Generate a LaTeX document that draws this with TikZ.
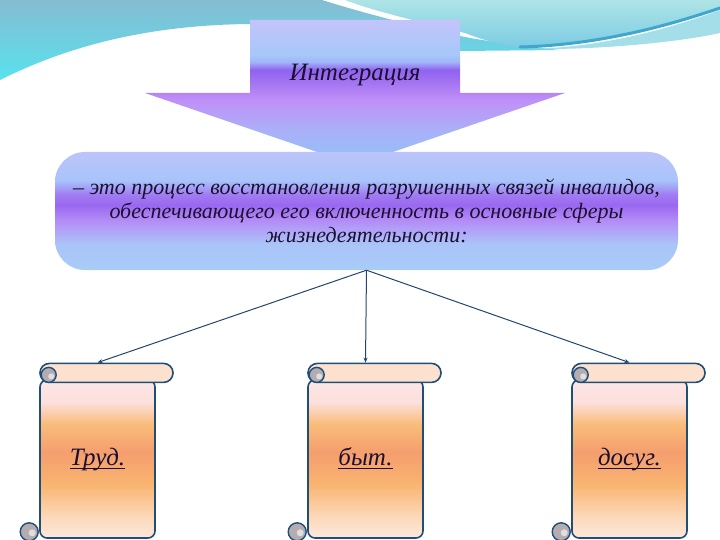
\documentclass[tikz,border=0pt]{standalone}
\usepackage{fontspec}
\setmainfont{Liberation Serif}
\usepackage{tikz}
\usetikzlibrary{arrows.meta,positioning,calc}

\newcommand{\ulabel}[1]{\setbox0\hbox{#1}\rlap{\rule[-4pt]{\wd0}{1.3pt}}\box0}

\definecolor{textdark}{HTML}{1A1030}
\definecolor{scrollline}{HTML}{1F4E79}
\definecolor{linkblue}{HTML}{24466E}
\definecolor{rollfill}{HTML}{FCE2CE}
\definecolor{curlgray}{HTML}{B4ACB0}
\definecolor{tealtop}{HTML}{86BCD2}
\definecolor{tealbot}{HTML}{58E2EE}
\definecolor{aquatop}{HTML}{AEE4E6}
\definecolor{aquabot}{HTML}{7CCCE4}
\definecolor{stripeblue}{HTML}{3FA6CE}
\definecolor{bandaqua}{HTML}{A4DEE8}
% arrow
\definecolor{ar0}{HTML}{90C4F8}
\definecolor{ar1}{HTML}{AAB0F8}
\definecolor{ar2}{HTML}{C090F8}
\definecolor{ar3}{HTML}{A878F2}
\definecolor{ar4}{HTML}{9062F0}
\definecolor{ar5}{HTML}{A0B4F8}
\definecolor{ar6}{HTML}{A6C8FA}
\definecolor{ar7}{HTML}{C4C4FA}
% box
\definecolor{bx0}{HTML}{A8CCF8}
\definecolor{bx1}{HTML}{AAC4F8}
\definecolor{bx2}{HTML}{B48CF6}
\definecolor{bx3}{HTML}{9A68F0}
\definecolor{bx4}{HTML}{A07CF2}
\definecolor{bx5}{HTML}{A8C4FA}
\definecolor{bx6}{HTML}{BCC4FA}
% scroll
\definecolor{sc0}{HTML}{FDE8DC}
\definecolor{sc1}{HTML}{FCD8B8}
\definecolor{sc2}{HTML}{F9B470}
\definecolor{sc3}{HTML}{F59E6E}
\definecolor{sc4}{HTML}{F9BC7A}
\definecolor{sc5}{HTML}{FCE0DC}
\definecolor{sc6}{HTML}{FCE6E6}

\pgfdeclareverticalshading{arrowshade}{100bp}{color(0bp)=(ar0); color(25bp)=(ar0);
  color(37bp)=(ar1); color(47.4bp)=(ar2); color(52.6bp)=(ar3); color(57.8bp)=(ar4);
  color(60.5bp)=(ar5); color(62.9bp)=(ar6); color(75bp)=(ar7); color(100bp)=(ar7)}
\pgfdeclareverticalshading{defnshade}{100bp}{color(0bp)=(bx0); color(25bp)=(bx0);
  color(36bp)=(bx1); color(46bp)=(bx2); color(52.5bp)=(bx3); color(57bp)=(bx4);
  color(63bp)=(bx5); color(75bp)=(bx6); color(100bp)=(bx6)}
\pgfdeclareverticalshading{scrollshade}{100bp}{color(0bp)=(sc0); color(25bp)=(sc0);
  color(32bp)=(sc1); color(42bp)=(sc2); color(52bp)=(sc3); color(61bp)=(sc4);
  color(68bp)=(sc5); color(75bp)=(sc6); color(100bp)=(sc6)}

\begin{document}
\begin{tikzpicture}[x=1pt, y=-1pt,
    defnbox/.style={rectangle, rounded corners=30pt, shade, shading=defnshade, minimum width=623pt, minimum height=118pt, align=center, font=\fontsize{22}{24}\selectfont\itshape, text=textdark},
    scrollbody/.style={rectangle, rounded corners=7pt, draw=scrollline, line width=1.6pt, shade, shading=scrollshade, minimum width=115pt, minimum height=158pt, inner sep=0pt, text height=17pt, text depth=5pt, font=\fontsize{25}{28}\selectfont\itshape, text=textdark},
    scrollroll/.style={rectangle, rounded corners=9.4pt, draw=scrollline, line width=1.6pt, fill=rollfill, minimum width=133pt, minimum height=19pt, inner sep=0pt, anchor=south west},
    curl/.style={draw=scrollline, line width=1.4pt, fill=curlgray},
    link/.style={-{Stealth[length=5pt,width=4pt]}, draw=linkblue, line width=1pt},
    titletext/.style={font=\fontsize{25}{28}\selectfont\itshape, text=textdark}
]
\useasboundingbox (0,0) rectangle (720,540);
\clip (0,0) rectangle (720,540);

% Background swooshes
\shade[top color=tealtop, bottom color=tealbot] (0,0) -- (322,0) .. controls (360,12) and (420,28) .. (470,38)
    .. controls (500,43) and (530,47) .. (560,50) -- (460,51) -- (255,30) -- (250,24)
    .. controls (150,25) and (70,45) .. (0,80) -- cycle;
\shade[top color=aquatop, bottom color=aquabot] (345,0) -- (720,0) -- (720,8)
    .. controls (670,25) and (600,45) .. (520,47) .. controls (500,45) and (480,39) .. (465,33)
    .. controls (420,22) and (370,10) .. (345,0) -- cycle;
\fill[bandaqua] (530,49) .. controls (610,47) and (680,25) .. (720,10) -- (720,33)
    .. controls (680,42) and (600,50) .. (530,49) -- cycle;
\draw[stripeblue, line width=3pt, line cap=round] (520,47) .. controls (600,45) and (670,25) .. (720,8);

% Title arrow
\shade[shading=arrowshade] (250,20) -- (460,20) -- (460,93) -- (565,93) -- (355,165) -- (145,93) -- (250,93) -- cycle;
\node[titletext] (integ) at (355,75) {Интеграция};

% Definition
\node[defnbox] (defn) at (366.5,211) {– это процесс восстановления разрушенных связей инвалидов,\\
  обеспечивающего его включенность в основные сферы\\
  жизнедеятельности:};

% Scrolls
\node[scrollbody] (trud) at (97.5,459) {\ulabel{Труд.}};
\node[scrollbody] (byt) at (365.5,459) {\ulabel{быт.}};
\node[scrollbody] (dosug) at (629.5,459) {\ulabel{досуг.}};

\node[scrollroll] (trudtop) at ($(trud.north west)+(0,4)$) {};
\node[scrollroll] (byttop) at ($(byt.north west)+(0,4)$) {};
\node[scrollroll] (dosugtop) at ($(dosug.north west)+(0,4)$) {};

\foreach \s in {trud,byt,dosug} {
  \draw[curl] ($(\s top.west)+(9.5,2)$) circle (7.5);
  \fill[white!60!curlgray] ($(\s top.west)+(12,3.5)$) circle (3);
  \draw[curl] ($(\s.south west)+(-10,-7)$) circle (9);
  \fill[white!60!curlgray] ($(\s.south west)+(-7,-6)$) circle (3.5);
}

% Links
\draw[link] (defn.south) -- (trud.north |- trudtop.north);
\draw[link] (defn.south) -- (byt.north |- byttop.north);
\draw[link] (defn.south) -- (dosug.north |- dosugtop.north);

\end{tikzpicture}
\end{document}
